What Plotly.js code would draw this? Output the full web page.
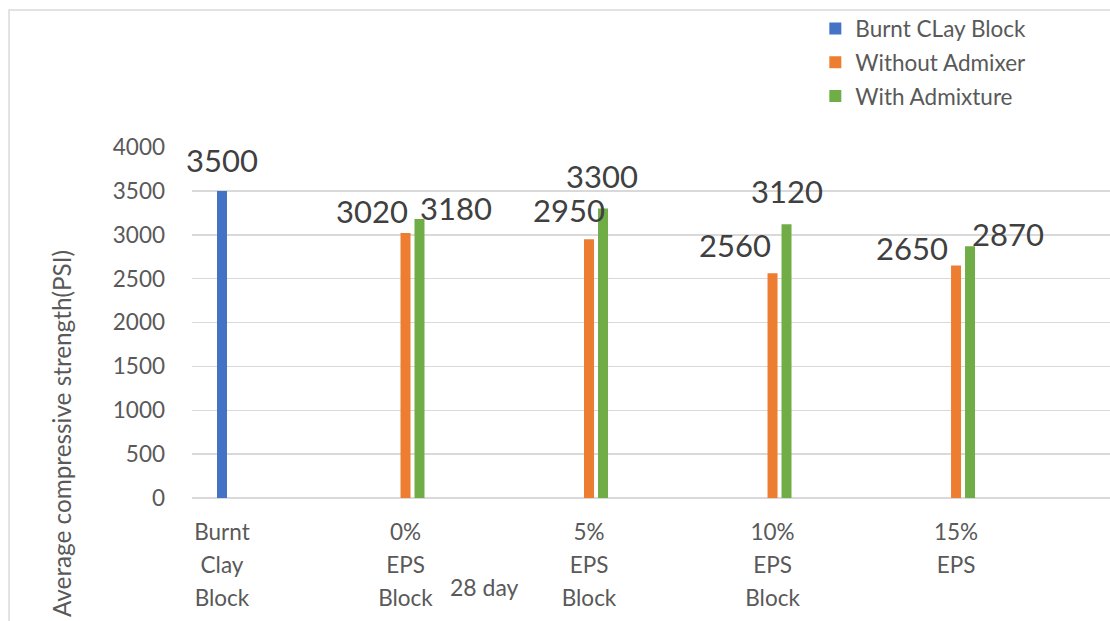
<!DOCTYPE html>
<html>
<head>
<meta charset="utf-8">
<script src="https://cdn.plot.ly/plotly-3.0.1.min.js"></script>
<style>html,body{margin:0;padding:0;background:#fff;}#chart{width:1110px;height:621px;}</style>
</head>
<body>
<div id="chart"></div>
<script>
// ---- data ----
const categories = ["Burnt<br>Clay<br>Block", "0%<br>EPS<br>Block", "5%<br>EPS<br>Block", "10%<br>EPS<br>Block", "15%<br>EPS"];
const seriesNames = ["Burnt CLay Block", "Without Admixer", "With Admixture"];
const burntClay = [3500, null, null, null, null];
const withoutAdmixer = [null, 3020, 2950, 2560, 2650];
const withAdmixture = [null, 3180, 3300, 3120, 2870];
const yTicks = [0, 500, 1000, 1500, 2000, 2500, 3000, 3500, 4000];
const yTitle = "Average compressive strength(PSI)";
const xTitle = "28 day";

// ---- styling / layout helpers ----
const colors = ["#4472C4", "#ED7D31", "#70AD47"];
const FONT = "Lato, Carlito, Calibri, 'Liberation Sans', sans-serif";
const xs = categories.map((_, i) => i);
const barW = 0.0545;
const offsets = [-barW / 2, -barW / 2, 0.049];
// pixel nudges for each data label [series][category] -> [dx, dy]
const labelNudge = [
  [[0, 31], null, null, null, null],
  [null, [-34, 22], [-20, 29], [-38, 28], [-44, 17]],
  [null, [36, 11], [-1, 32], [0, 33], [38, 12]]
];
const allSeries = [burntClay, withoutAdmixer, withAdmixture];

const traces = allSeries.map((vals, s) => ({
  type: "bar",
  name: seriesNames[s],
  x: xs,
  y: vals,
  width: barW,
  offset: offsets[s],
  marker: {color: colors[s]},
  legendgroup: "g" + s,
  hoverinfo: "skip"
}));

const annotations = [];
allSeries.forEach((vals, s) => {
  vals.forEach((v, i) => {
    if (v === null) return;
    const nud = labelNudge[s][i];
    annotations.push({
      x: i + offsets[s] + barW / 2, y: v, xref: "x", yref: "y",
      text: String(v), showarrow: false,
      xshift: nud[0], yshift: nud[1],
      xanchor: "center", yanchor: "middle",
      font: {family: FONT, size: 31, color: "#404040"}
    });
  });
});
annotations.push({
  xref: "paper", yref: "paper", x: -0.1427, y: 0.182,
  text: yTitle, textangle: -90, showarrow: false,
  xanchor: "center", yanchor: "middle",
  font: {family: FONT, size: 24.3, color: "#595959"}
});
annotations.push({
  xref: "paper", yref: "paper", x: 0.319, y: -0.2536,
  text: xTitle, showarrow: false, xanchor: "center", yanchor: "middle",
  font: {family: FONT, size: 23, color: "#595959"}
});

const tickText = categories.map(c => c.split("<br>").map(l => '<span style="font-size:22.5px">' + l + '</span>').join("<br>"));

const layout = {
  width: 1110, height: 621,
  margin: {l: 192, r: 0, t: 147, b: 123, pad: 0},
  paper_bgcolor: "#ffffff", plot_bgcolor: "#ffffff",
  font: {family: FONT, color: "#595959"},
  barmode: "overlay",
  showlegend: true,
  legend: {
    x: 0.679, xanchor: "left", y: 1.398, yanchor: "top",
    font: {family: FONT, size: 22.5, color: "#595959"},
    traceorder: "grouped", tracegroupgap: 1.5,
    bgcolor: "rgba(0,0,0,0)"
  },
  xaxis: {
    range: [-0.1635, 4.839],
    tickmode: "array", tickvals: xs, ticktext: tickText,
    ticks: "", showgrid: false, zeroline: false,
    showline: false,
    tickfont: {family: FONT, size: 25.4, color: "#595959"},
    ticklabelstandoff: 16,
    fixedrange: true
  },
  yaxis: {
    range: [0, 4000],
    tickmode: "array", tickvals: yTicks,
    ticks: "", showgrid: true, gridcolor: "#d9d9d9", gridwidth: 1.5,
    zeroline: true, zerolinecolor: "#d9d9d9", zerolinewidth: 1.5,
    showline: false,
    tickfont: {family: FONT, size: 22.5, color: "#595959"},
    ticklabelstandoff: 26,
    fixedrange: true
  },
  annotations: annotations,
  shapes: [{
    type: "rect", xref: "paper", yref: "paper",
    x0: -0.1993, x1: 1.05, y0: -0.6, y1: 1.390,
    line: {color: "#d9d9d9", width: 1.5}, fillcolor: "rgba(0,0,0,0)", layer: "below"
  }]
};

Plotly.newPlot("chart", traces, layout, {displayModeBar: false, staticPlot: true});
</script>
</body>
</html>
